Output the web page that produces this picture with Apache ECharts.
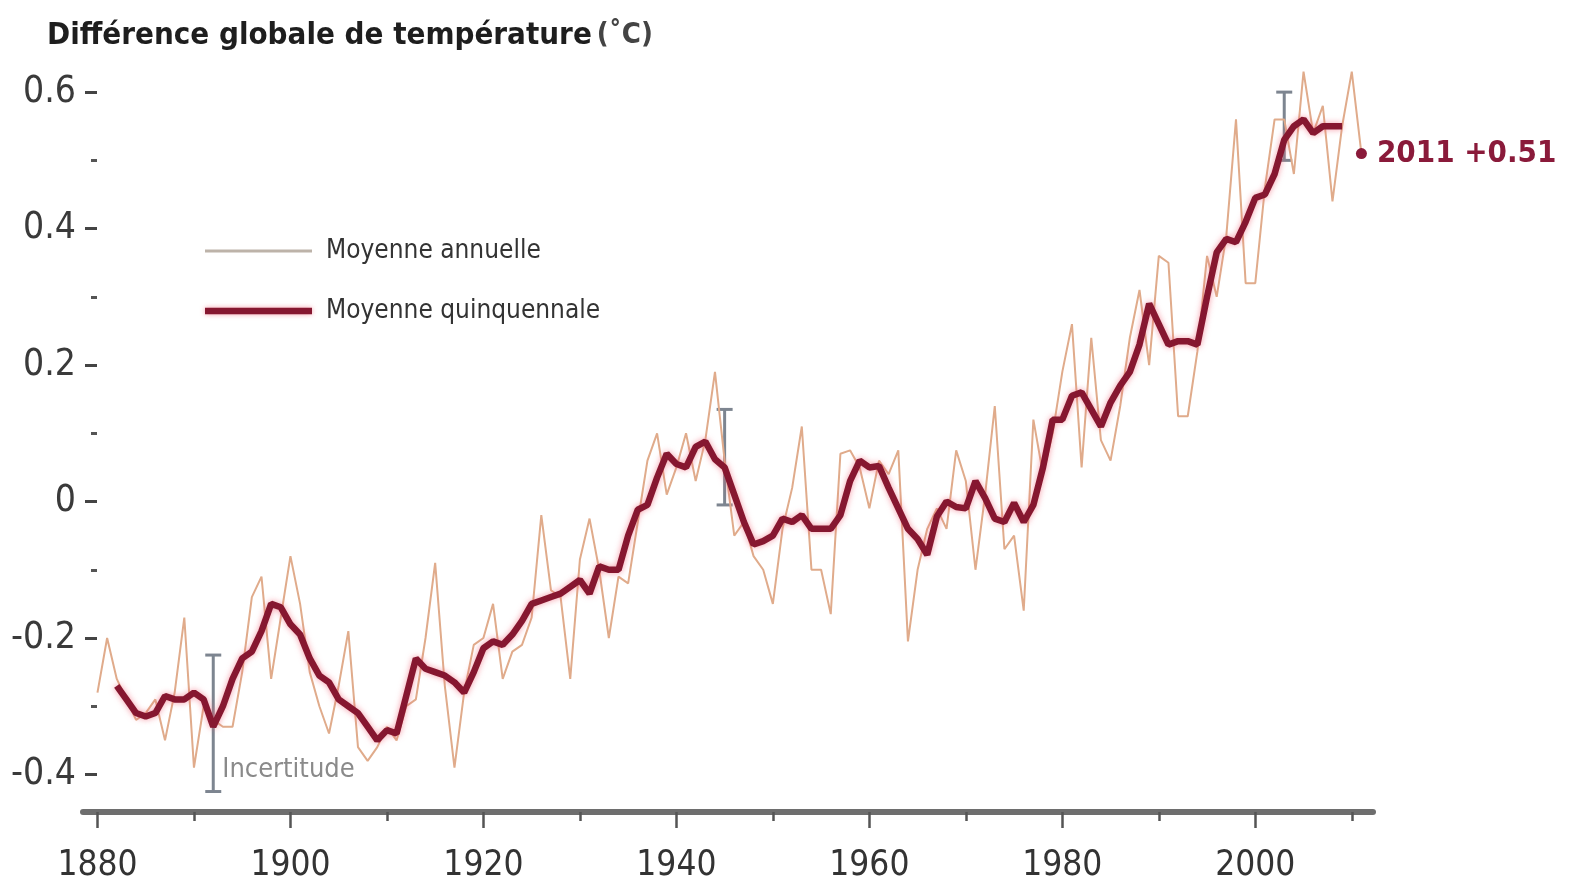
<!DOCTYPE html>
<html>
<head>
<meta charset="utf-8">
<script src="https://cdn.jsdelivr.net/npm/echarts@6/dist/echarts.min.js"></script>
<style>
  html, body { margin: 0; padding: 0; background: #fff; }
  #main { width: 1575px; height: 891px; }
</style>
</head>
<body>
<div id="main"></div>
<script>
// textes
const titleMain = 'Différence globale de température';
const titleUnit = '(˚C)';
const nameAnnual = 'Moyenne annuelle';
const nameFive = 'Moyenne quinquennale';

// moyenne annuelle, 1880 -> 2011
const annualStart = 1880;
const annualValues = [
  -0.28, -0.20, -0.26, -0.29, -0.32, -0.31, -0.29, -0.35, -0.28, -0.17,   // 1880
  -0.39, -0.30, -0.32, -0.33, -0.33, -0.25, -0.14, -0.11, -0.26, -0.17,   // 1890
  -0.08, -0.15, -0.25, -0.30, -0.34, -0.27, -0.19, -0.36, -0.38, -0.36,   // 1900
  -0.33, -0.35, -0.30, -0.29, -0.20, -0.09, -0.27, -0.39, -0.28, -0.21,   // 1910
  -0.20, -0.15, -0.26, -0.22, -0.21, -0.17, -0.02, -0.13, -0.14, -0.26,   // 1920
  -0.085, -0.025, -0.10, -0.20, -0.11, -0.12, -0.03, 0.06, 0.10, 0.01,    // 1930
  0.05, 0.10, 0.03, 0.09, 0.19, 0.06, -0.05, -0.03, -0.08, -0.10,         // 1940
  -0.15, -0.04, 0.02, 0.11, -0.10, -0.10, -0.165, 0.07, 0.075, 0.05,      // 1950
  -0.01, 0.06, 0.04, 0.075, -0.205, -0.10, -0.04, -0.01, -0.04, 0.075,    // 1960
  0.03, -0.10, 0.01, 0.14, -0.07, -0.05, -0.16, 0.12, 0.04, 0.10,         // 1970
  0.19, 0.26, 0.05, 0.24, 0.09, 0.06, 0.14, 0.24, 0.31, 0.20,             // 1980
  0.36, 0.35, 0.125, 0.125, 0.22, 0.36, 0.30, 0.39, 0.56, 0.32,           // 1990
  0.32, 0.46, 0.56, 0.56, 0.48, 0.63, 0.54, 0.58, 0.44, 0.55,             // 2000
  0.63, 0.51                                                               // 2010
];

// moyenne quinquennale, 1882 -> 2009
const fiveStart = 1882;
const fiveValues = [
  -0.27, -0.29, -0.31, -0.315, -0.31, -0.285, -0.29, -0.29,                       // 1882
  -0.28, -0.29, -0.33, -0.30, -0.26, -0.23, -0.22, -0.19, -0.15, -0.155,          // 1890
  -0.18, -0.195, -0.23, -0.255, -0.265, -0.29, -0.30, -0.31, -0.33, -0.35,        // 1900
  -0.335, -0.34, -0.285, -0.23, -0.245, -0.25, -0.255, -0.265, -0.28, -0.25,      // 1910
  -0.215, -0.205, -0.21, -0.195, -0.175, -0.15, -0.145, -0.14, -0.135, -0.125,    // 1920
  -0.115, -0.135, -0.095, -0.10, -0.10, -0.05, -0.012, -0.005, 0.035, 0.07,       // 1930
  0.055, 0.05, 0.08, 0.088, 0.062, 0.05, 0.01, -0.03, -0.063, -0.058,             // 1940
  -0.05, -0.025, -0.03, -0.02, -0.04, -0.04, -0.04, -0.02, 0.03, 0.06,            // 1950
  0.05, 0.052, 0.02, -0.01, -0.04, -0.055, -0.078, -0.022, 0.0, -0.008,           // 1960
  -0.01, 0.03, 0.005, -0.025, -0.03, -0.002, -0.03, -0.005, 0.05, 0.12,           // 1970
  0.12, 0.155, 0.16, 0.135, 0.11, 0.145, 0.17, 0.19, 0.23, 0.29,                  // 1980
  0.26, 0.23, 0.235, 0.235, 0.23, 0.30, 0.365, 0.385, 0.38, 0.41,                 // 1990
  0.445, 0.45, 0.48, 0.53, 0.55, 0.56, 0.54, 0.55, 0.55, 0.55                     // 2000
];

// barres d'incertitude
const errorYears = [1892, 1945, 2003];
const errorLow = [-0.425, -0.005, 0.50];
const errorHigh = [-0.225, 0.135, 0.60];
const errorLabels = ['Incertitude', '', ''];

// dernier point
const lastYear = 2011;
const lastValue = 0.51;

// graduations
const labelYears = [1880, 1900, 1920, 1940, 1960, 1980, 2000];
const minorYears = [1890, 1910, 1930, 1950, 1970, 1990, 2010];
const yLabelValues = [-0.4, -0.2, 0, 0.2, 0.4, 0.6];
const yMinorValues = [-0.3, -0.1, 0.1, 0.3, 0.5];

const FONT = "'Liberation Sans Narrow', 'DejaVu Sans Condensed', 'Liberation Sans', sans-serif";
const DARK_RED = '#861730';
const TAN = '#e0ab8b';

let myChart = echarts.init(document.getElementById('main'));

let option = {
    backgroundColor: '#ffffff',
    animation: false,
    title: {
        left: 42,
        top: 15,
        text: '{b|' + titleMain + '} {n|' + titleUnit + '}',
        textStyle: {
            rich: {
                b: { fontFamily: FONT, fontWeight: 'bold', fontSize: 31, color: '#1e1e1e' },
                n: { fontFamily: FONT, fontSize: 29, color: '#444' }
            }
        }
    },
    legend: {
        orient: 'vertical',
        left: 205,
        top: 238,
        padding: 0,
        itemWidth: 107,
        itemHeight: 30,
        itemGap: 34,
        textStyle: { fontFamily: FONT, fontSize: 26, color: '#333', padding: [0, 0, 0, 9] },
        data: [
            {
                name: nameAnnual,
                icon: 'path://M0,0L100,0L100,3L0,3Z',
                itemStyle: { color: '#bdb3a9' }
            },
            {
                name: nameFive,
                icon: 'path://M0,0L100,0L100,6L0,6Z',
                itemStyle: { color: DARK_RED, shadowColor: 'rgba(240,90,110,0.6)', shadowBlur: 5 }
            }
        ]
    },
    grid: {
        left: 83,
        right: 202,
        top: 58,
        bottom: 79,
        outerBoundsMode: 'none'
    },
    xAxis: [
        {
            type: 'value',
            min: 1878.5,
            max: 2012.2,
            axisLine: { show: true, onZero: false, lineStyle: { color: '#6e6e6e', width: 6 } },
            axisTick: { show: true, customValues: labelYears, length: 16, lineStyle: { color: '#555', width: 2.5 } },
            axisLabel: {
                customValues: labelYears,
                formatter: v => String(v),
                fontFamily: FONT,
                fontSize: 35,
                color: '#333',
                margin: 36
            },
            splitLine: { show: false }
        },
        {
            // petites graduations
            type: 'value',
            position: 'bottom',
            min: 1878.5,
            max: 2012.2,
            axisLine: { show: false, onZero: false },
            axisTick: { show: true, customValues: minorYears, length: 9, lineStyle: { color: '#555', width: 2.5 } },
            axisLabel: { show: false },
            splitLine: { show: false }
        }
    ],
    yAxis: [
        {
            type: 'value',
            min: -0.455,
            max: 0.65,
            position: 'left',
            offset: -14,
            axisLine: { show: false },
            axisTick: { show: true, customValues: yLabelValues, length: 12, lineStyle: { color: '#444', width: 3 } },
            axisLabel: {
                customValues: yLabelValues,
                formatter: v => String(+v.toFixed(1)),
                fontFamily: FONT,
                fontSize: 37,
                color: '#3a3a3a',
                margin: 21
            },
            splitLine: { show: false }
        },
        {
            // points intermédiaires
            type: 'value',
            min: -0.455,
            max: 0.65,
            position: 'left',
            offset: -14,
            axisLine: { show: false },
            axisTick: { show: true, customValues: yMinorValues, length: 6, lineStyle: { color: '#555', width: 3 } },
            axisLabel: { show: false },
            splitLine: { show: false }
        }
    ],
    series: [
        {
            name: 'Incertitude',
            type: 'custom',
            z: 2,
            silent: true,
            encode: { x: 0, y: [1, 2] },
            data: errorYears.map((yr, i) => [yr, errorLow[i], errorHigh[i]]),
            renderItem: function (params, api) {
                let x = api.value(0);
                let lo = api.coord([x, api.value(1)]);
                let hi = api.coord([x, api.value(2)]);
                let half = 8;
                let style = { stroke: '#7d8590', lineWidth: 3 };
                let children = [
                    { type: 'line', shape: { x1: lo[0], y1: lo[1], x2: hi[0], y2: hi[1] }, style: style },
                    { type: 'line', shape: { x1: hi[0] - half, y1: hi[1], x2: hi[0] + half, y2: hi[1] }, style: style },
                    { type: 'line', shape: { x1: lo[0] - half, y1: lo[1], x2: lo[0] + half, y2: lo[1] }, style: style }
                ];
                let label = errorLabels[params.dataIndex];
                if (label) {
                    children.push({
                        type: 'text',
                        x: lo[0] + 9,
                        y: lo[1] - 22,
                        style: {
                            text: label,
                            fill: '#8a8a8a',
                            fontFamily: FONT,
                            fontSize: 27,
                            verticalAlign: 'middle'
                        }
                    });
                }
                return { type: 'group', children: children };
            }
        },
        {
            name: nameAnnual,
            type: 'line',
            z: 2,
            symbol: 'none',
            data: annualValues.map((v, i) => [annualStart + i, v]),
            lineStyle: { color: TAN, width: 2 },
            itemStyle: { color: TAN }
        },
        {
            name: nameFive,
            type: 'line',
            z: 3,
            symbol: 'none',
            data: fiveValues.map((v, i) => [fiveStart + i, v]),
            lineStyle: { color: DARK_RED, width: 6.5, shadowColor: 'rgba(240,90,110,0.6)', shadowBlur: 6 },
            itemStyle: { color: DARK_RED }
        },
        {
            name: 'dernier',
            type: 'scatter',
            z: 4,
            symbolSize: 11,
            data: [[lastYear, lastValue]],
            itemStyle: { color: '#8a1a3a', opacity: 1 },
            label: {
                show: true,
                position: 'right',
                distance: 10,
                formatter: lastYear + ' +' + lastValue.toFixed(2),
                fontFamily: FONT,
                fontWeight: 'bold',
                fontSize: 31,
                color: '#8a1a3a'
            }
        }
    ]
};
myChart.setOption(option);
</script>
</body>
</html>
